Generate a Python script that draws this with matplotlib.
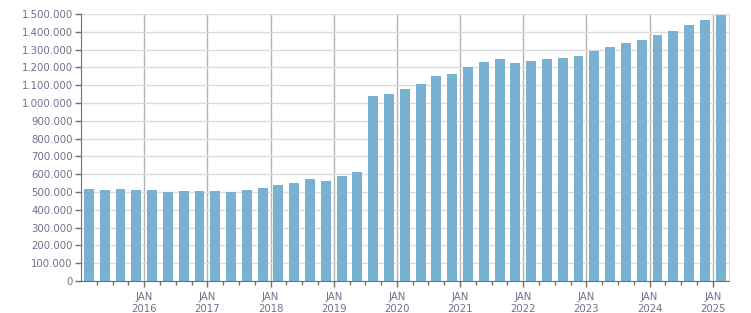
import numpy as np
import matplotlib.pyplot as plt
from matplotlib.ticker import FuncFormatter

# quarterly values, Q1 2015 .. Q1 2025
values = [
    517000, 511000, 517000, 511000,
    511000, 500000, 506000, 506000,
    506000, 500000, 511000, 522000,
    539000, 551000, 573000, 562000,
    590000, 612000, 1039000, 1051000,
    1079000, 1107000, 1152000, 1163000,
    1202000, 1230000, 1247000, 1225000,
    1236000, 1247000, 1253000, 1264000,
    1292000, 1315000, 1337000, 1354000,
    1382000, 1404000, 1438000, 1466000,
    1497000,
]
years = [2016, 2017, 2018, 2019, 2020, 2021, 2022, 2023, 2024, 2025]
first_year = 2015

text_col = "#6f6f8c"
bar_col = "#78b1d2"

x = np.arange(len(values))

fig = plt.figure(figsize=(7.51, 3.13), dpi=100)
ax = fig.add_axes([0.1079, 0.1022, 0.8622, 0.8531])

ax.bar(x, values, width=0.63, color=bar_col, zorder=3)

ax.set_xlim(-0.5, len(values) - 0.5)
ax.set_ylim(0, 1500000)

# y axis
ax.set_yticks(np.arange(0, 1500001, 100000))
ax.yaxis.set_major_formatter(FuncFormatter(lambda v, p: f"{int(v):,}".replace(",", ".")))
ax.grid(axis="y", color="#dcdcdc", linewidth=1, zorder=0)

# x axis: january boundaries as major ticks, quarter boundaries as minor
major = [(y - first_year) * 4 - 0.5 for y in years]
minor = [b for b in np.arange(0.5, len(values) - 1, 1.0) if b not in major]
ax.set_xticks(major)
ax.set_xticklabels([f"JAN\n{y}" for y in years])
ax.set_xticks(minor, minor=True)
for m in major:
    ax.axvline(m, color="#b4b4b4", linewidth=1, zorder=1)

ax.tick_params(axis="both", colors="#707070", labelcolor=text_col, labelsize=7.3)
ax.tick_params(axis="y", length=4, width=1, pad=2)
ax.tick_params(axis="x", which="major", length=4, width=1, pad=4)
ax.tick_params(axis="x", which="minor", length=3, width=1, colors="#707070")

for s in ["left", "bottom"]:
    ax.spines[s].set_color("#707070")
    ax.spines[s].set_zorder(4)
ax.spines["top"].set_visible(False)
ax.spines["right"].set_color("#dcdcdc")

fig.savefig("out.png", dpi=100)
